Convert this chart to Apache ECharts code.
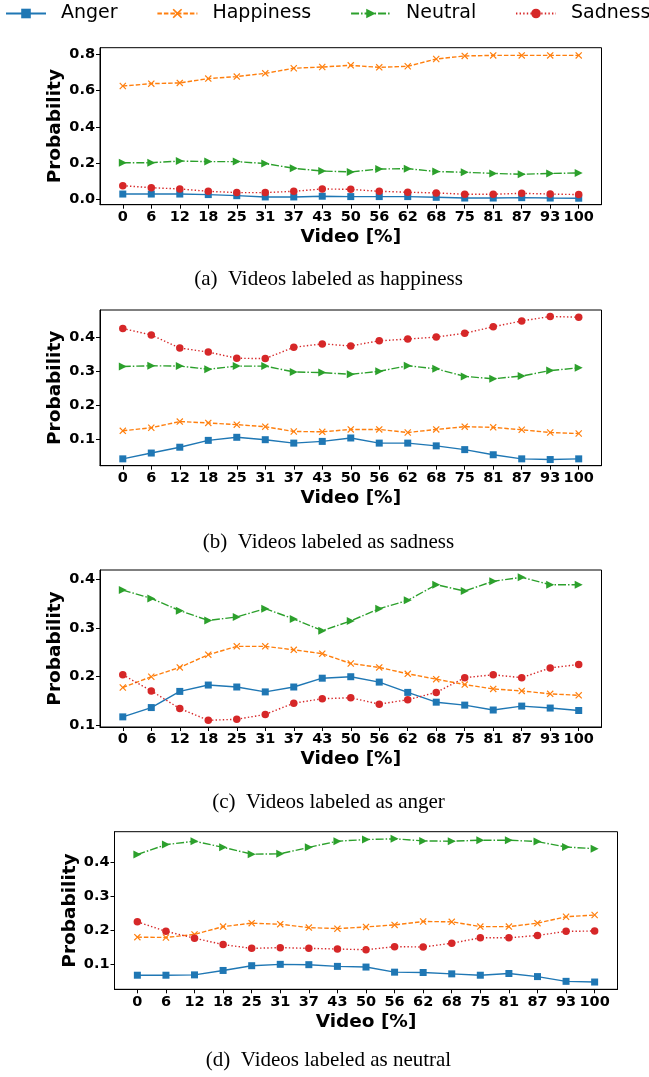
<!doctype html>
<html>
<head>
<meta charset="utf-8">
<style>
  html, body { margin: 0; padding: 0; background: #fff; }
  #main { width: 649px; height: 1077px; }
</style>
</head>
<body>
<div id="main"></div>
<script src="https://cdn.jsdelivr.net/npm/echarts@6/dist/echarts.min.js"></script>
<script>
// x categories (percent of video)
var videoPct = ['0', '6', '12', '18', '25', '31', '37', '43', '50', '56', '62', '68', '75', '81', '87', '93', '100'];
var emotions = ['Anger', 'Happiness', 'Neutral', 'Sadness'];

// (a) videos labeled as happiness
var hapAnger = [0.029, 0.029, 0.029, 0.026, 0.020, 0.013, 0.013, 0.017, 0.015, 0.015, 0.015, 0.011, 0.007, 0.007, 0.009, 0.007, 0.006];
var hapHappiness = [0.625, 0.638, 0.642, 0.666, 0.677, 0.695, 0.723, 0.730, 0.739, 0.728, 0.734, 0.774, 0.791, 0.794, 0.794, 0.794, 0.794];
var hapNeutral = [0.202, 0.202, 0.211, 0.208, 0.208, 0.197, 0.171, 0.156, 0.151, 0.167, 0.169, 0.153, 0.149, 0.143, 0.138, 0.143, 0.145];
var hapSadness = [0.075, 0.064, 0.057, 0.044, 0.037, 0.037, 0.044, 0.057, 0.055, 0.044, 0.039, 0.035, 0.028, 0.028, 0.033, 0.029, 0.026];

// (b) videos labeled as sadness
var sadAnger = [0.044, 0.061, 0.078, 0.098, 0.107, 0.100, 0.090, 0.095, 0.105, 0.090, 0.090, 0.082, 0.071, 0.056, 0.044, 0.042, 0.044];
var sadHappiness = [0.126, 0.135, 0.153, 0.149, 0.144, 0.138, 0.124, 0.123, 0.130, 0.130, 0.121, 0.130, 0.138, 0.136, 0.129, 0.121, 0.118];
var sadNeutral = [0.314, 0.316, 0.315, 0.306, 0.315, 0.315, 0.298, 0.296, 0.291, 0.300, 0.316, 0.307, 0.285, 0.278, 0.286, 0.302, 0.310];
var sadSadness = [0.425, 0.406, 0.368, 0.356, 0.338, 0.337, 0.370, 0.380, 0.374, 0.389, 0.394, 0.400, 0.411, 0.430, 0.447, 0.460, 0.458];

// (c) videos labeled as anger
var angAnger = [0.118, 0.137, 0.170, 0.183, 0.179, 0.169, 0.179, 0.197, 0.200, 0.189, 0.168, 0.148, 0.142, 0.132, 0.140, 0.136, 0.131];
var angHappiness = [0.178, 0.200, 0.219, 0.245, 0.262, 0.262, 0.255, 0.247, 0.227, 0.219, 0.206, 0.195, 0.184, 0.175, 0.171, 0.165, 0.162];
var angNeutral = [0.377, 0.360, 0.335, 0.315, 0.322, 0.339, 0.318, 0.294, 0.314, 0.339, 0.356, 0.388, 0.375, 0.395, 0.403, 0.388, 0.388];
var angSadness = [0.204, 0.171, 0.135, 0.111, 0.113, 0.123, 0.146, 0.155, 0.157, 0.144, 0.153, 0.168, 0.198, 0.204, 0.198, 0.218, 0.225];

// (d) videos labeled as neutral
var neuAnger = [0.067, 0.067, 0.068, 0.081, 0.095, 0.099, 0.098, 0.093, 0.091, 0.076, 0.075, 0.071, 0.067, 0.072, 0.063, 0.049, 0.047];
var neuHappiness = [0.179, 0.178, 0.187, 0.210, 0.220, 0.217, 0.207, 0.204, 0.209, 0.215, 0.225, 0.224, 0.210, 0.210, 0.220, 0.239, 0.244];
var neuNeutral = [0.422, 0.451, 0.461, 0.443, 0.423, 0.424, 0.443, 0.461, 0.466, 0.468, 0.462, 0.461, 0.464, 0.464, 0.460, 0.444, 0.439];
var neuSadness = [0.224, 0.196, 0.176, 0.157, 0.146, 0.148, 0.146, 0.144, 0.142, 0.151, 0.150, 0.161, 0.177, 0.177, 0.184, 0.196, 0.197];

var yTicksA = [0, 0.2, 0.4, 0.6, 0.8];
var yTicksB = [0.1, 0.2, 0.3, 0.4];
var captions = ['(a)  Videos labeled as happiness', '(b)  Videos labeled as sadness',
                '(c)  Videos labeled as anger', '(d)  Videos labeled as neutral'];

var panels = [
  { data: [hapAnger, hapHappiness, hapNeutral, hapSadness], ticks: yTicksA, min: -0.0298, max: 0.8364,
    left: 100, width: 501.5, top: 47.7, height: 157, capY: 264 },
  { data: [sadAnger, sadHappiness, sadNeutral, sadSadness], ticks: yTicksB, min: 0.024, max: 0.479,
    left: 100, width: 501.5, top: 310, height: 155.7, capY: 527 },
  { data: [angAnger, angHappiness, angNeutral, angSadness], ticks: yTicksB, min: 0.0973, max: 0.418,
    left: 100, width: 501.5, top: 570, height: 157, capY: 787 },
  { data: [neuAnger, neuHappiness, neuNeutral, neuSadness], ticks: yTicksB, min: 0.0256, max: 0.489,
    left: 114.5, width: 503, top: 831.7, height: 157.6, capY: 1045 }
];

var colors = ['#1f77b4', '#ff7f0e', '#2ca02c', '#d62728'];
var symbols = [
  'rect',
  'path://M0,1.2L1.2,0L5,3.8L8.8,0L10,1.2L6.2,5L10,8.8L8.8,10L5,6.2L1.2,10L0,8.8L3.8,5Z',
  'path://M0,0L10,5L0,10Z',
  'circle'
];
var symbolSizes = [7, 7, 8, 7.5];
var dashes = ['solid', [4.5, 2], [8, 2, 1.5, 2], [1.4, 2.2]];

var tickFont = { fontFamily: 'DejaVu Sans', fontWeight: 'bold', fontSize: 14.5, color: '#000' };
var nameFont = { fontFamily: 'DejaVu Sans', fontWeight: 'bold', fontSize: 18.5, color: '#000' };

var grids = [], xAxes = [], yAxes = [], series = [], titles = [];
panels.forEach(function (p, k) {
  grids.push({ left: p.left, top: p.top, width: p.width, height: p.height,
    show: true, borderColor: '#000', borderWidth: 1, containLabel: false });
  xAxes.push({
    type: 'value', gridIndex: k, min: -0.8, max: 16.8,
    name: 'Video [%]', nameLocation: 'middle', nameGap: 23, nameMoveOverlap: false, nameTextStyle: nameFont,
    axisLine: { show: true, onZero: false, lineStyle: { color: '#000', width: 1 } },
    axisTick: { show: true, length: 4, lineStyle: { color: '#000' }, customValues: videoPct.map(function (v, i) { return i; }) },
    axisLabel: Object.assign({ margin: 5, customValues: videoPct.map(function (v, i) { return i; }),
      formatter: function (v) { return videoPct[Math.round(v)]; } }, tickFont),
    splitLine: { show: false }
  });
  yAxes.push({
    type: 'value', gridIndex: k, min: p.min, max: p.max,
    name: 'Probability', nameLocation: 'middle', nameGap: 35, nameMoveOverlap: false, nameTextStyle: nameFont,
    axisLine: { show: true, onZero: false, lineStyle: { color: '#000', width: 1 } },
    axisTick: { show: true, length: 4, lineStyle: { color: '#000' }, customValues: p.ticks },
    axisLabel: Object.assign({ margin: 5, customValues: p.ticks,
      formatter: function (v) { return v.toFixed(1); } }, tickFont),
    splitLine: { show: false }
  });
  p.data.forEach(function (vals, s) {
    series.push({
      name: emotions[s], type: 'line', xAxisIndex: k, yAxisIndex: k,
      data: vals.map(function (v, i) { return [i, v]; }),
      symbol: symbols[s], symbolSize: symbolSizes[s], showAllSymbol: true,
      lineStyle: { color: colors[s], width: 1.4, type: dashes[s] },
      itemStyle: { color: colors[s] },
      z: 2 + s, animation: false
    });
  });
  titles.push({ text: captions[k], left: 323.5, textAlign: 'center', top: p.capY,
    textStyle: { fontFamily: 'Liberation Serif', fontWeight: 'normal', fontSize: 21, color: '#000' } });
});

var chart = echarts.init(document.getElementById('main'), null, { renderer: 'canvas' });
chart.setOption({
  animation: false,
  color: colors,
  title: titles,
  legend: {
    data: emotions, left: 5, top: 4, width: 700, padding: 0,
    itemWidth: 40, itemHeight: 12, itemGap: 38.8,
    textStyle: { fontFamily: 'DejaVu Sans', fontSize: 19, color: '#000', padding: [0, 0, 0, 10] }
  },
  grid: grids,
  xAxis: xAxes,
  yAxis: yAxes,
  series: series
});
</script>
</body>
</html>
